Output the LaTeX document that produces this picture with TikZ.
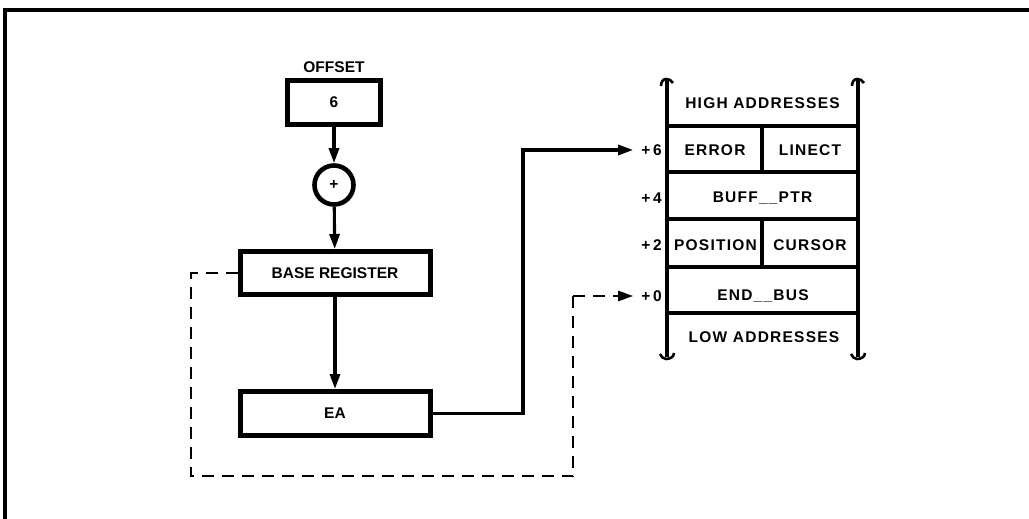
\documentclass[tikz,border=0pt]{standalone}
\usepackage{fontspec}
\setmainfont{Liberation Sans}[BoldFont={Liberation Sans Bold}]
\usetikzlibrary{arrows.meta}
\begin{document}
\begin{tikzpicture}[x=1pt,y=-1pt,
  txt/.style={font=\fontsize{15.5}{18}\selectfont\bfseries, inner sep=0pt},
  mtxt/.style={font=\fontsize{15.5}{18}\selectfont\bfseries\addfontfeature{LetterSpace=8}, inner sep=0pt},
  ltxt/.style={font=\fontsize{15.5}{18}\selectfont\bfseries\addfontfeature{LetterSpace=18}, inner sep=0pt, anchor=east},
  regbox/.style={draw, line width=5pt, inner sep=0pt, txt},
  arr/.style={line width=3.1pt, -{Triangle[length=15pt,width=10pt]}},
  dsh/.style={line width=2.6pt, dash pattern=on 12pt off 8pt},
  memline/.style={line width=4.8pt},
  sepline/.style={line width=4pt},
  frame/.style={line width=3.2pt}
]
\useasboundingbox (0,0) rectangle (1029,519);
% frame
\draw[frame] (3,10) -- (1029,10);
\draw[frame] (5,10) -- (5,519);

% left column
\node[txt] (offl) at (334,67) {OFFSET};
\node[regbox, minimum width=93pt, minimum height=44pt] (off) at (334,102.5) {6};
\node[circle, draw, line width=4.6pt, minimum size=39pt, inner sep=0pt, txt] (plus) at (334,185) {+};
\node[regbox, minimum width=190pt, minimum height=43pt] (br) at (335,273) {BASE REGISTER};
\node[regbox, minimum width=190pt, minimum height=44pt] (ea) at (335,413.5) {EA};

\draw[arr] (off) -- (plus);
\draw[arr] (plus) -- (br);
\draw[arr] (br) -- (ea);

% memory stack
\draw[memline] (667,80) -- (667,357);
\draw[memline] (858,80) -- (858,357);
\foreach \yy in {126,172,219,267,313} \draw[sepline] (667,\yy) -- (858,\yy);
\draw[sepline] (762,126) -- (762,172);
\draw[sepline] (762,219) -- (762,267);
% break marks
\foreach \xx in {667,858} {
  \draw[line width=2.6pt] (\xx-6,86) to[out=90,in=180] (\xx-1,79) to[out=0,in=120] (\xx+6,83);
  \draw[line width=2.6pt] (\xx-7,354) to[out=-60,in=180] (\xx-1,359) to[out=0,in=-90] (\xx+7,353);
}

\node[mtxt] (high) at (762.5,103) {HIGH ADDRESSES};
\node[mtxt] (error) at (715,150) {ERROR};
\node[mtxt] (linect) at (810,150) {LINECT};
\node[mtxt] (buff) at (762.5,198) {BUFF\_\_PTR};
\node[mtxt] (pos) at (715.5,245) {POSITION};
\node[mtxt] (cursor) at (810,245) {CURSOR};
\node[mtxt] (endbus) at (763,296) {END\_\_BUS};
\node[mtxt] (low) at (764,337) {LOW ADDRESSES};

\node[ltxt] (p6) at (662,150) {+6};
\node[ltxt] (p4) at (662,198) {+4};
\node[ltxt] (p2) at (662,245) {+2};
\node[ltxt] (p0) at (662,296) {+0};

% connectors
\coordinate (c1) at (523,150);
\draw[arr, shorten >=8pt] (ea.east) -| (c1) -- (p6.west);

\coordinate (dl) at (191,476);
\coordinate (dr) at (573,296);
\draw[dsh] (br.west) -| (dl) -| (dr);
\draw[arr, dash pattern=on 12pt off 8pt, line width=2.6pt, shorten >=8pt] (dr) -- (p0.west);
\end{tikzpicture}
\end{document}
